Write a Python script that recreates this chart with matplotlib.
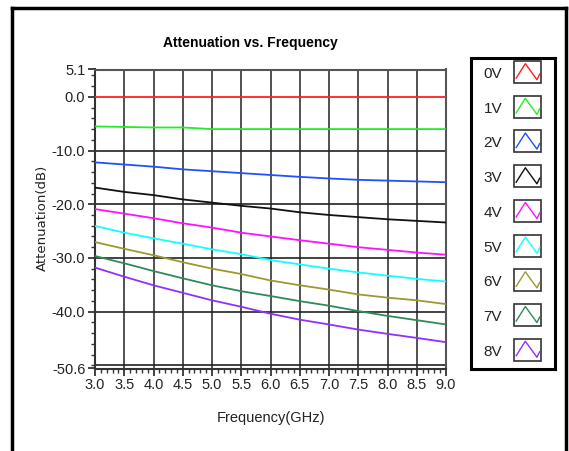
import matplotlib
matplotlib.use('Agg')
import matplotlib.pyplot as plt
from matplotlib.lines import Line2D
from matplotlib.patches import Rectangle
from matplotlib.ticker import FixedLocator, MultipleLocator

plt.rcParams['font.family'] = ['Liberation Sans', 'DejaVu Sans']

freq = [3.0, 3.5, 4.0, 4.5, 5.0, 5.5, 6.0, 6.5, 7.0, 7.5, 8.0, 8.5, 9.0]
att_0v = [0.0, 0.0, 0.0, 0.0, 0.0, 0.0, 0.0, 0.0, 0.0, 0.0, 0.0, 0.0, 0.0]
att_1v = [-5.5, -5.6, -5.7, -5.7, -6.0, -6.0, -6.0, -6.0, -6.0, -6.0, -6.0, -6.0, -6.0]
att_2v = [-12.2, -12.6, -13.0, -13.5, -13.85, -14.2, -14.55, -14.9, -15.2, -15.45, -15.6, -15.75, -15.9]
att_3v = [-16.9, -17.7, -18.3, -19.1, -19.7, -20.3, -20.8, -21.5, -22.0, -22.4, -22.8, -23.1, -23.4]
att_4v = [-20.9, -21.75, -22.6, -23.55, -24.35, -25.3, -26.0, -26.7, -27.35, -28.0, -28.5, -29.0, -29.4]
att_5v = [-24.05, -25.3, -26.35, -27.35, -28.4, -29.3, -30.4, -31.2, -32.0, -32.7, -33.3, -33.9, -34.4]
att_6v = [-27.05, -28.3, -29.5, -30.8, -32.0, -33.0, -34.2, -35.1, -35.9, -36.8, -37.4, -37.9, -38.6]
att_7v = [-29.65, -31.0, -32.45, -33.8, -35.1, -36.2, -37.1, -38.05, -38.9, -39.9, -40.8, -41.6, -42.4]
att_8v = [-31.8, -33.5, -35.1, -36.5, -37.9, -39.1, -40.4, -41.5, -42.4, -43.35, -44.15, -44.9, -45.7]

labels = ['0V', '1V', '2V', '3V', '4V', '5V', '6V', '7V', '8V']
series = [att_0v, att_1v, att_2v, att_3v, att_4v, att_5v, att_6v, att_7v, att_8v]
colors = ['#ff2020', '#22ee22', '#2050ff', '#111111', '#ff10ff', '#10ffff',
          '#9a9a30', '#2e8b57', '#9030ff']

y_major = [5.1, 0.0, -10.0, -20.0, -30.0, -40.0, -50.6]
y_minor = [4, 2, -2, -4, -6, -8, -12, -14, -16, -18, -22, -24, -26, -28,
           -32, -34, -36, -38, -42, -44, -46, -48, -50]
x_major = [3.0, 3.5, 4.0, 4.5, 5.0, 5.5, 6.0, 6.5, 7.0, 7.5, 8.0, 8.5, 9.0]

fig = plt.figure(figsize=(5.69, 4.51), dpi=100)
ax = fig.add_axes([95/569, 1 - 368.5/451, 351/569, 299/451])

# grid first so the curves sit on top
for xv in x_major:
    ax.axvline(xv, color='#333333', lw=1.2, zorder=1)
for yv in [-10, -20, -30, -40, -50]:
    ax.axhline(yv, color='#222222', lw=1.2, zorder=1)

for lab, ys, c in zip(labels, series, colors):
    ax.plot(freq, ys, color=c, lw=1.3, label=lab, zorder=3)

ax.set_xlim(3.0, 9.0)
ax.set_ylim(-50.6, 5.1)
ax.xaxis.set_major_locator(FixedLocator(x_major))
ax.xaxis.set_minor_locator(MultipleLocator(0.1))
ax.yaxis.set_major_locator(FixedLocator(y_major))
ax.yaxis.set_minor_locator(FixedLocator(y_minor))
ax.set_xticklabels(['%.1f' % v for v in x_major])
ax.set_yticklabels(['%.1f' % v for v in y_major])
ax.tick_params(which='major', direction='out', length=5, width=1.2, pad=2,
               labelsize=10.5, colors='#222222')
ax.tick_params(which='minor', direction='out', length=3, width=1.0, colors='#333333')
for s in ['top', 'right']:
    ax.spines[s].set_color('#555555')
    ax.spines[s].set_linewidth(1.5)
for s in ['left', 'bottom']:
    ax.spines[s].set_color('#333333')
    ax.spines[s].set_linewidth(1.5)

fig.text(250/569, 1 - 43/451, 'Attenuation vs. Frequency', ha='center', va='center',
         fontsize=10, fontweight='bold')
fig.text(271/569, 1 - 418/451, 'Frequency(GHz)', ha='center', va='center',
         fontsize=10.5, color='#222222')
fig.text(42/569, 1 - 218/451, 'Attenuation(dB)', ha='center', va='center',
         rotation=90, fontsize=9.5, family='DejaVu Sans', color='#222222')

# legend panel drawn by hand, LabVIEW style
lg = fig.add_axes([471/569, 1 - 369/451, 84/569, 311/451])
lg.set_xlim(0, 84)
lg.set_ylim(311, 0)
lg.set_xticks([])
lg.set_yticks([])
for s in lg.spines.values():
    s.set_linewidth(2.2)
    s.set_color('black')
zig_x = [0.08, 0.42, 0.85, 0.95]
zig_y = [0.78, 0.12, 0.85, 0.6]
for i, (lab, c) in enumerate(zip(labels, colors)):
    top = 3 + i * 34.7
    lg.text(22, top + 13, lab, ha='center', va='center', fontsize=11, color='#222222')
    lg.add_patch(Rectangle((43, top), 27, 22, fill=False, ec='#333333', lw=1.2))
    lg.plot([43 + 27 * v for v in zig_x], [top + 22 * v for v in zig_y], color=c, lw=1.0)

# outer frame
fig.add_artist(Line2D([12/569, 566/569], [1 - 8/451, 1 - 8/451], color='black', lw=2.5))
fig.add_artist(Line2D([12/569, 12/569], [0, 1 - 8/451], color='black', lw=2.5))
fig.add_artist(Line2D([566/569, 566/569], [0, 1 - 8/451], color='black', lw=2.5))

fig.savefig('out.png', dpi=100)
